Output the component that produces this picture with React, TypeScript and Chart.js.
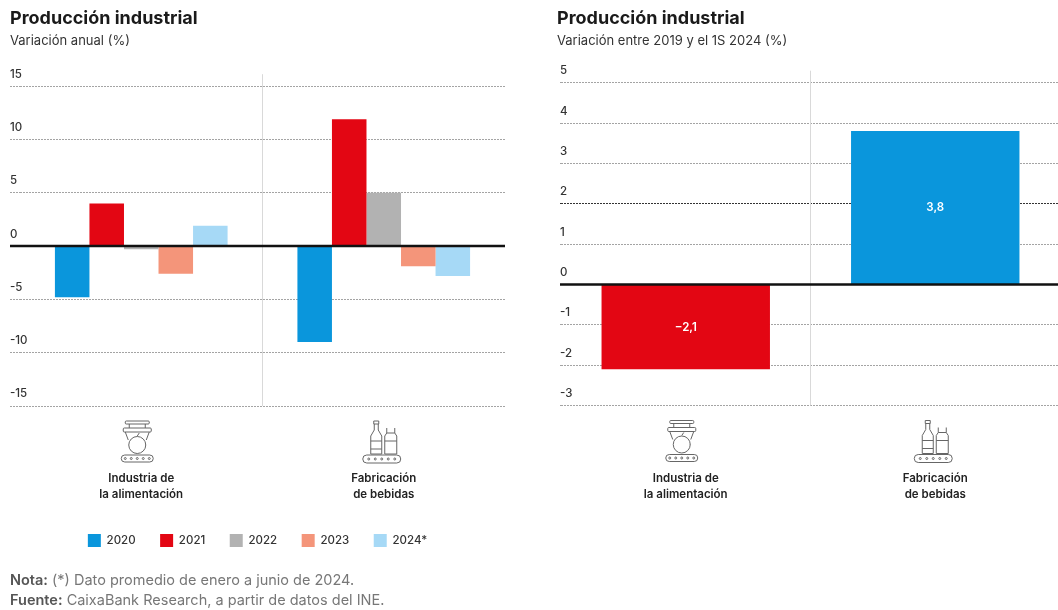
import React, { useEffect, useRef } from "react";
import { Chart, registerables } from "chart.js";

Chart.register(...registerables);

const FONT = "Inter, 'Liberation Sans', sans-serif";

const categories = [["Industria de", "la alimentación"], ["Fabricación", "de bebidas"]];
const years = ["2020", "2021", "2022", "2023", "2024*"];
const yearColors = ["#0A96DC", "#E30613", "#B2B2B2", "#F4957A", "#A6D9F6"];
const values2020 = [-4.8, -9.0];
const values2021 = [4.0, 11.9];
const values2022 = [-0.3, 5.0];
const values2023 = [-2.6, -1.9];
const values2024 = [1.9, -2.8];
const variationValues = [-2.1, 3.8];
const variationColors = ["#E30613", "#0A96DC"];

const LEFT_TITLE = "Producción industrial";
const LEFT_SUB = "Variación anual (%)";
const RIGHT_SUB = "Variación entre 2019 y el 1S 2024 (%)";

function drawFoodIcon(ctx: CanvasRenderingContext2D, cx: number, top: number) {
  ctx.beginPath();
  ctx.roundRect(cx - 12, top, 24, 3, 1);
  ctx.moveTo(cx - 8, top + 3); ctx.lineTo(cx - 8, top + 7);
  ctx.moveTo(cx + 8, top + 3); ctx.lineTo(cx + 8, top + 7);
  ctx.roundRect(cx - 14, top + 7, 28, 4, 1);
  ctx.moveTo(cx - 12, top + 11); ctx.lineTo(cx - 9, top + 19);
  ctx.moveTo(cx + 12, top + 11); ctx.lineTo(cx + 9, top + 19);
  ctx.moveTo(cx + 8, top + 24);
  ctx.arc(cx, top + 24, 8.5, 0, Math.PI * 2);
  ctx.moveTo(cx, top + 15); ctx.lineTo(cx + 2, top + 12);
  ctx.roundRect(cx - 16, top + 34, 32, 7, 3.5);
  for (let i = -2; i <= 2; i++) {
    ctx.moveTo(cx + i * 6 + 1, top + 37.5);
    ctx.arc(cx + i * 6, top + 37.5, 1, 0, Math.PI * 2);
  }
  ctx.stroke();
}

function drawDrinkIcon(ctx: CanvasRenderingContext2D, cx: number, top: number) {
  ctx.beginPath();
  ctx.rect(cx - 8, top, 5, 3);
  ctx.moveTo(cx - 7.5, top + 3); ctx.lineTo(cx - 7.5, top + 9);
  ctx.lineTo(cx - 11, top + 15); ctx.lineTo(cx - 11, top + 33);
  ctx.lineTo(cx, top + 33); ctx.lineTo(cx, top + 15);
  ctx.lineTo(cx - 3.5, top + 9); ctx.lineTo(cx - 3.5, top + 3);
  ctx.moveTo(cx - 11, top + 20); ctx.lineTo(cx, top + 20);
  ctx.moveTo(cx - 11, top + 28); ctx.lineTo(cx, top + 28);
  ctx.moveTo(cx + 5, top + 7); ctx.lineTo(cx + 5, top + 12);
  ctx.lineTo(cx + 3, top + 15); ctx.lineTo(cx + 3, top + 33);
  ctx.lineTo(cx + 15, top + 33); ctx.lineTo(cx + 15, top + 15);
  ctx.lineTo(cx + 13, top + 12); ctx.lineTo(cx + 13, top + 7);
  ctx.moveTo(cx + 5, top + 12); ctx.lineTo(cx + 13, top + 12);
  ctx.moveTo(cx + 3, top + 20); ctx.lineTo(cx + 15, top + 20);
  ctx.roundRect(cx - 19, top + 34, 38, 8, 4);
  for (let i = -2; i <= 2; i++) {
    ctx.moveTo(cx + i * 6.5 + 1, top + 38);
    ctx.arc(cx + i * 6.5, top + 38, 1, 0, Math.PI * 2);
  }
  ctx.stroke();
}

const decorPlugin = {
  id: "decor",
  beforeDatasetsDraw(chart: any) {
    const { ctx, scales, chartArea } = chart;
    const x = scales.x;
    ctx.save();
    ctx.strokeStyle = "#D9D9D9";
    ctx.lineWidth = 1;
    ctx.beginPath();
    const mid = (x.getPixelForValue(0) + x.getPixelForValue(1)) / 2;
    ctx.moveTo(mid, chartArea.top - 12);
    ctx.lineTo(mid, chartArea.bottom);
    ctx.stroke();
    ctx.restore();
  },
  afterDatasetsDraw(chart: any) {
    const { ctx, scales, chartArea } = chart;
    const y0 = scales.y.getPixelForValue(0);
    const gutter = chart.options.scales.y.grid.tickLength;
    ctx.save();
    ctx.strokeStyle = "#111111";
    ctx.lineWidth = 2.5;
    ctx.beginPath();
    ctx.moveTo(chartArea.left - gutter, y0);
    ctx.lineTo(chartArea.right, y0);
    ctx.stroke();
    ctx.strokeStyle = "#666666";
    ctx.lineWidth = 1;
    drawFoodIcon(ctx, scales.x.getPixelForValue(0) - 4, chartArea.bottom + 15);
    drawDrinkIcon(ctx, scales.x.getPixelForValue(1) - 2, chartArea.bottom + 15);
    ctx.restore();
  },
};

const valueLabelPlugin = {
  id: "valueLabels",
  afterDatasetsDraw(chart: any) {
    const { ctx } = chart;
    const meta = chart.getDatasetMeta(0);
    ctx.save();
    ctx.fillStyle = "#FFFFFF";
    ctx.font = `600 11.5px ${FONT}`;
    ctx.textAlign = "center";
    ctx.textBaseline = "middle";
    meta.data.forEach((bar: any, i: number) => {
      const v = chart.data.datasets[0].data[i];
      const text = (v < 0 ? "−" : "") + Math.abs(v).toFixed(1).replace(".", ",");
      ctx.fillText(text, bar.x, (bar.y + bar.base) / 2);
    });
    ctx.restore();
  },
};

function baseOptions(title: string, subtitle: string, min: number, max: number, step: number, opts: any): any {
  return {
    responsive: false,
    animation: false,
    layout: { padding: opts.padding },
    plugins: {
      title: {
        display: true, text: title, align: "start", color: "#1A1A1A",
        font: { family: FONT, size: 18, weight: "700" }, padding: { top: 8, bottom: 4 },
      },
      subtitle: {
        display: true, text: subtitle, align: "start", color: "#333333",
        font: { family: FONT, size: 13, weight: "400" }, padding: { top: 0, bottom: opts.subGap },
      },
      tooltip: { enabled: false },
      legend: opts.legend,
    },
    scales: {
      x: {
        grid: { display: false, drawTicks: false },
        border: { display: false },
        afterFit: (s: any) => { s.height = opts.xHeight; },
        ticks: {
          color: "#222222", padding: opts.xPad, maxRotation: 0, autoSkip: false,
          font: { family: FONT, size: 11.5, weight: "600", lineHeight: 1.42 },
        },
      },
      y: {
        min, max,
        afterFit: (s: any) => { s.width = opts.yWidth; },
        border: { display: false, dash: [2, 1] },
        grid: {
          color: (c: any) => (opts.darkTick === c.tick?.value ? "#333333" : "#A4A4A4"),
          lineWidth: 1, tickLength: opts.gutter, drawTicks: true, tickBorderDash: [2, 1],
        },
        ticks: {
          stepSize: step, mirror: true, padding: -opts.gutter, labelOffset: -12,
          color: "#333333", font: { family: FONT, size: 11.5, weight: "500" },
          callback: (v: any) => String(v),
        },
      },
    },
  };
}

export default function App() {
  const leftRef = useRef<HTMLCanvasElement>(null);
  const rightRef = useRef<HTMLCanvasElement>(null);

  useEffect(() => {
    const series = [values2020, values2021, values2022, values2023, values2024];
    const left = new Chart(leftRef.current!, {
      type: "bar",
      data: {
        labels: categories,
        datasets: years.map((y, i) => ({
          label: y,
          data: series[i],
          backgroundColor: yearColors[i],
          barPercentage: 1,
          categoryPercentage: 0.712,
        })),
      },
      options: baseOptions(LEFT_TITLE, LEFT_SUB, -15, 15, 5, {
        padding: { left: 10, right: 25, bottom: 53 },
        subGap: 37,
        xHeight: 103.5,
        xPad: 64.5,
        gutter: 10,
        yWidth: 10,
        legend: {
          display: true, position: "bottom",
          labels: {
            boxWidth: 13, boxHeight: 13, padding: 24.5, color: "#333333",
            font: { family: FONT, size: 11.5, weight: "500" },
          },
        },
      }),
      plugins: [decorPlugin],
    } as any);

    const right = new Chart(rightRef.current!, {
      type: "bar",
      data: {
        labels: categories,
        datasets: [{
          label: "Variación",
          data: variationValues,
          backgroundColor: variationColors,
          barPercentage: 1,
          categoryPercentage: 0.675,
        }],
      },
      options: baseOptions(LEFT_TITLE, RIGHT_SUB, -3, 5, 1, {
        padding: { left: 17, right: 0, bottom: 104.5 },
        subGap: 33.5,
        xHeight: 100,
        xPad: 64.5,
        gutter: 1,
        yWidth: 4,
        darkTick: 2,
        legend: { display: false },
      }),
      plugins: [decorPlugin, valueLabelPlugin],
    } as any);

    return () => {
      left.destroy();
      right.destroy();
    };
  }, []);

  return (
    <div style={{ position: "absolute", left: 0, top: 0, width: 1058, height: 610, overflow: "hidden", background: "#fff" }}>
      <canvas ref={leftRef} width={530} height={610} style={{ position: "absolute", left: 0, top: 0 }} />
      <canvas ref={rightRef} width={520} height={610} style={{ position: "absolute", left: 540, top: 0 }} />
      <div style={{ position: "absolute", left: 10, top: 570, fontFamily: FONT, fontSize: 14.5, lineHeight: "20px", color: "#777", whiteSpace: "nowrap" }}>
        <div><b style={{ color: "#555", fontWeight: 600 }}>Nota:</b> (*) Dato promedio de enero a junio de 2024.</div>
        <div><b style={{ color: "#555", fontWeight: 600 }}>Fuente:</b> CaixaBank Research, a partir de datos del INE.</div>
      </div>
    </div>
  );
}
